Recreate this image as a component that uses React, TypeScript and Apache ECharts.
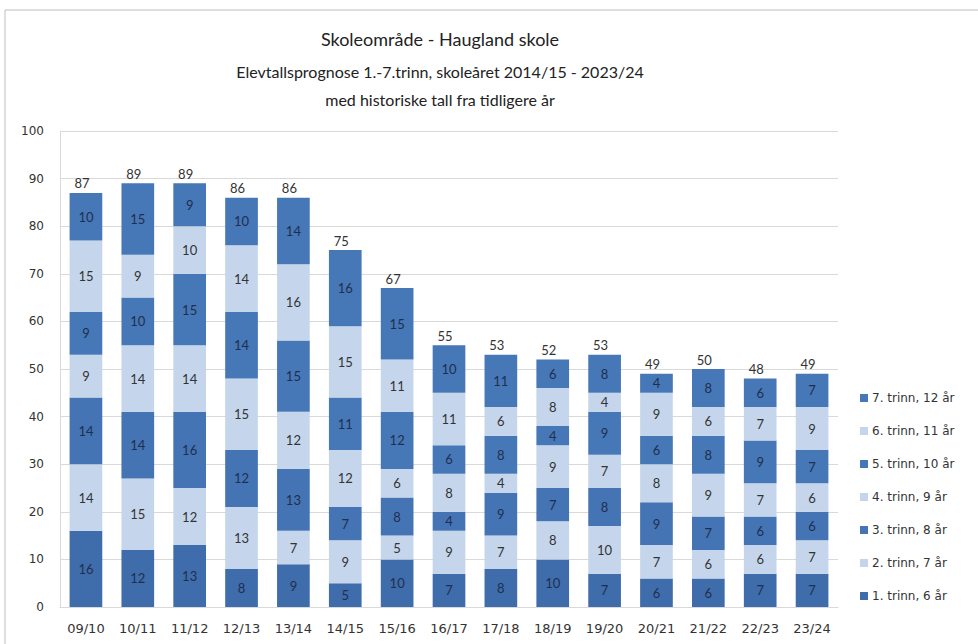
import React, { useEffect, useRef } from "react";
import * as echarts from "echarts";

const categories = ["09/10", "10/11", "11/12", "12/13", "13/14", "14/15", "15/16", "16/17", "17/18", "18/19", "19/20", "20/21", "21/22", "22/23", "23/24"];
const trinn1 = [16, 12, 13, 8, 9, 5, 10, 7, 8, 10, 7, 6, 6, 7, 7];
const trinn2 = [14, 15, 12, 13, 7, 9, 5, 9, 7, 8, 10, 7, 6, 6, 7];
const trinn3 = [14, 14, 16, 12, 13, 7, 8, 4, 9, 7, 8, 9, 7, 6, 6];
const trinn4 = [9, 14, 14, 15, 12, 12, 6, 8, 4, 9, 7, 8, 9, 7, 6];
const trinn5 = [9, 10, 15, 14, 15, 11, 12, 6, 8, 4, 9, 6, 8, 9, 7];
const trinn6 = [15, 9, 10, 14, 16, 15, 11, 11, 6, 8, 4, 9, 6, 7, 9];
const trinn7 = [10, 15, 9, 10, 14, 16, 15, 10, 11, 6, 8, 4, 8, 6, 7];
const seriesNames = ["1. trinn, 6 år", "2. trinn, 7 år", "3. trinn, 8 år", "4. trinn, 9 år", "5. trinn, 10 år", "6. trinn, 11 år", "7. trinn, 12 år"];
const yTicks = [0, 10, 20, 30, 40, 50, 60, 70, 80, 90, 100];

const FONT = "Lato";
const WIDE = "DejaVu Sans";

export default function App() {
  const ref = useRef<HTMLDivElement>(null);
  useEffect(() => {
    if (!ref.current) return;
    const chart = echarts.init(ref.current, undefined, { renderer: "svg" });
    const all = [trinn1, trinn2, trinn3, trinn4, trinn5, trinn6, trinn7];
    const colors = ["#3F6CAA", "#C5D6EC", "#4474B4", "#C5D6EC", "#4677B6", "#C5D6EC", "#4677B6"];
    const labelColors = ["#1F2F4F", "#333333", "#1F2F4F", "#333333", "#1F2F4F", "#333333", "#1F2F4F"];
    const totals = categories.map((_, i) => all.reduce((s, a) => s + a[i], 0));
    const series: any[] = all.map((d, k) => ({
      name: seriesNames[k],
      type: "bar",
      stack: "s",
      data: d,
      barWidth: "63%",
      itemStyle: { color: colors[k] },
      label: {
        show: true,
        position: "inside",
        color: labelColors[k],
        fontFamily: FONT,
        fontSize: 13,
      },
    }));
    series.push({
      name: "Total",
      type: "bar",
      stack: "s",
      data: totals.map(() => 0),
      barWidth: "63%",
      itemStyle: { color: "transparent" },
      label: {
        show: true,
        position: "top",
        distance: 3,
        offset: [-4, 0],
        color: "#333",
        fontFamily: FONT,
        fontSize: 13,
        formatter: (p: any) => String(totals[p.dataIndex]),
      },
    });
    chart.setOption({
      animation: false,
      backgroundColor: "#fff",
      title: [
        {
          text: "Skoleområde - Haugland skole",
          left: 435,
          textAlign: "center",
          top: 25,
          textStyle: { fontFamily: FONT, fontSize: 18, fontWeight: "normal", color: "#222" },
        },
        {
          text: "Elevtallsprognose 1.-7.trinn, skoleåret 2014/15 - 2023/24\nmed historiske tall fra tidligere år",
          left: 435,
          textAlign: "center",
          top: 52,
          textStyle: { fontFamily: FONT, fontSize: 16, fontWeight: "normal", color: "#222", lineHeight: 28 },
        },
      ],
      legend: {
        orient: "vertical",
        left: 855,
        top: 387,
        itemGap: 21,
        itemWidth: 8,
        itemHeight: 8,
        icon: "rect",
        data: seriesNames.slice().reverse(),
        textStyle: { fontFamily: WIDE, fontSize: 12, color: "#333", padding: [0, 0, 0, -1] },
      },
      grid: { left: 60, right: 140, top: 131, bottom: 37, containLabel: false },
      xAxis: {
        type: "category",
        data: categories,
        axisLine: { lineStyle: { color: "#d9d9d9" } },
        axisTick: { show: false },
        axisLabel: { fontFamily: WIDE, fontSize: 13, color: "#333", margin: 15 },
      },
      yAxis: {
        type: "value",
        min: yTicks[0],
        max: yTicks[yTicks.length - 1],
        interval: 10,
        axisLine: { show: true, lineStyle: { color: "#d9d9d9" } },
        axisTick: { show: false },
        axisLabel: { fontFamily: WIDE, fontSize: 12, color: "#333", margin: 16 },
        splitLine: { lineStyle: { color: "#d9d9d9" } },
      },
      graphic: [
        {
          type: "rect",
          shape: { x: 5, y: 10, width: 1000, height: 700 },
          style: { fill: "none", stroke: "#bfbfbf", lineWidth: 1 },
          silent: true,
        },
      ],
      series,
    });
    return () => chart.dispose();
  }, []);
  return <div ref={ref} style={{ position: "fixed", left: 0, top: 0, width: 978, height: 644 }} />;
}
